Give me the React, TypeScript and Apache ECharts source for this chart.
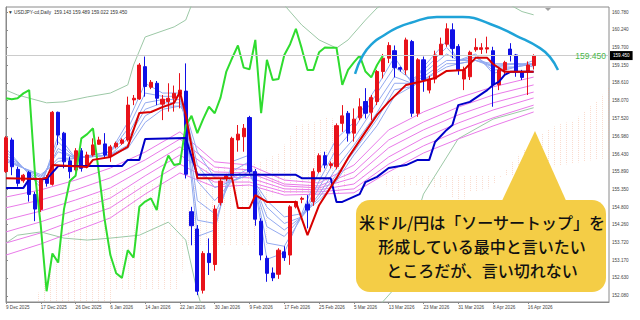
import React, { useEffect, useRef } from "react";
import * as echarts from "echarts";

// ---------- axis labels ----------
const dateLabels = [
  "9 Dec 2025", "17 Dec 2025", "26 Dec 2025", "6 Jan 2026", "14 Jan 2026", "22 Jan 2026",
  "30 Jan 2026", "9 Feb 2026", "17 Feb 2026", "25 Feb 2026", "5 Mar 2026", "13 Mar 2026",
  "23 Mar 2026", "31 Mar 2026", "8 Apr 2026", "16 Apr 2026",
];
const yTicks = [
  152.08, 152.63, 153.17, 153.72, 154.26, 154.8, 155.35, 155.89, 156.43, 156.98,
  157.52, 158.07, 158.61, 159.15, 159.7, 160.24, 160.78,
];
const headerText = "▼ USDJPY-cd,Daily  159.143 159.489 159.022 159.450";
const calloutLines = [
  "米ドル/円は「ソーサートップ」を",
  "形成している最中と言いたい",
  "ところだが、言い切れない",
];

// ---------- candles ----------
const opens = [
  155.89, 156.86, 155.96, 155.61, 155.86, 155.19, 154.73, 155.68, 155.5, 157.71,
  157.07, 156.22, 155.94, 156.53, 156.06, 156.4, 156.73, 156.74, 156.35, 156.65,
  156.76, 156.86, 158.09, 158.12, 159.11, 158.48, 158.6, 157.96, 158.04, 158.14,
  158.26, 158.36, 154.66, 154.13, 152.25, 153.38, 153.04, 154.94, 155.68, 155.76,
  156.86, 156.96, 157.55, 155.89, 154.37, 153.23, 152.78, 152.74, 153.43, 153.33,
  154.81, 155.04, 154.89, 154.97, 155.89, 156.38, 156.08, 156.04, 157.37, 157.68,
  157.07, 157.54, 158.04, 157.71, 158.04, 158.96, 159.37, 159.6, 159.08, 159.01,
  159.88, 157.68, 159.32, 158.39, 158.73, 159.47, 159.8, 160.24, 159.73, 158.73,
  158.8, 159.63, 159.64, 159.65, 159.6, 158.55, 159.01, 159.65, 159.47, 158.96,
  158.96, 159.143,
];
const closes = [
  156.93, 156.04, 155.53, 155.78, 155.19, 154.74, 155.63, 155.53, 157.71, 157.01,
  156.19, 155.89, 156.53, 155.99, 156.4, 156.71, 156.86, 156.4, 156.65, 156.76,
  156.86, 157.93, 158.14, 159.16, 158.5, 158.63, 158.14, 158.11, 158.14, 158.29,
  158.39, 155.81, 154.23, 152.22, 153.38, 153.1, 154.74, 155.6, 155.76, 156.91,
  157.04, 157.22, 155.89, 154.43, 153.33, 152.77, 152.63, 153.48, 153.25, 154.81,
  154.97, 155.07, 154.71, 155.89, 156.38, 156.09, 156.13, 157.3, 157.6, 157.07,
  157.5, 157.88, 157.68, 158.16, 158.96, 159.37, 159.76, 159.08, 159.03, 159.93,
  157.68, 159.32, 158.7, 158.73, 159.47, 159.8, 160.27, 159.67, 159.01, 159.01,
  159.55, 159.7, 159.69, 159.69, 158.55, 159.01, 159.24, 159.45, 158.96, 158.78,
  159.16, 159.45,
];
const lows = [
  155.85, 155.78, 155.43, 155.55, 154.97, 154.37, 154.65, 155.43, 155.46, 156.71,
  155.99, 155.68, 155.89, 155.89, 155.99, 156.35, 156.71, 156.3, 156.19, 156.6,
  156.71, 156.81, 157.93, 158.09, 158.19, 158.42, 157.93, 157.47, 157.73, 157.73,
  157.83, 155.68, 153.63, 152.1, 152.15, 152.72, 152.85, 154.85, 155.6, 155.68,
  156.5, 156.5, 155.83, 154.23, 153.17, 152.51, 152.53, 152.6, 153.15, 153.03,
  154.76, 154.92, 154.15, 154.84, 155.84, 155.99, 155.99, 155.96, 157.11, 156.81,
  156.81, 157.47, 157.52, 157.47, 157.93, 158.75, 159.22, 158.78, 158.96, 158.86,
  157.57, 157.57, 158.34, 158.29, 158.6, 159.45, 159.72, 159.37, 158.86, 158.39,
  158.7, 159.57, 159.5, 159.52, 157.88, 158.39, 158.86, 159.27, 158.8, 158.7,
  158.24, 159.022,
];
const highs = [
  156.98, 156.93, 156.04, 155.82, 155.91, 155.27, 155.69, 155.78, 157.75, 157.73,
  157.11, 156.35, 156.61, 156.61, 156.5, 156.91, 156.96, 157.07, 156.71, 156.81,
  156.91, 158.19, 158.24, 159.22, 159.42, 158.7, 158.67, 158.24, 158.6, 158.53,
  158.91, 159.21, 154.81, 154.25, 153.45, 153.84, 154.86, 155.69, 155.82, 156.96,
  157.32, 157.35, 157.6, 155.97, 154.46, 153.31, 152.95, 153.54, 153.6, 154.86,
  155.0, 155.12, 155.17, 155.99, 156.45, 156.5, 156.2, 157.37, 157.93, 157.75,
  157.83, 158.14, 158.45, 158.24, 159.01, 159.5, 159.86, 159.76, 159.11, 160.0,
  159.93, 159.37, 159.42, 158.83, 159.6, 160.0, 160.44, 160.44, 159.8, 159.11,
  159.6, 159.98, 159.83, 160.03, 159.72, 159.06, 159.29, 159.83, 159.5, 159.01,
  159.27, 159.489,
];

// ---------- Ichimoku (bar index, price) ----------
const tenkan = [
  [0, 155.69], [6, 155.66], [7, 155.7], [8, 156.09], [14, 156.03], [15, 156.25], [18, 156.34],
  [21, 156.65], [22, 157.17], [23, 157.69], [25, 157.72], [27, 157.87], [29, 158.0], [30, 158.33],
  [31, 157.63], [33, 155.69], [39, 155.69], [40, 154.77], [42, 154.77], [43, 155.17], [45, 154.96],
  [50, 154.96], [52, 153.94], [54, 154.86], [57, 155.69], [59, 156.31], [62, 157.11], [64, 157.63],
  [66, 158.03], [69, 158.55], [72, 158.67], [74, 158.76], [76, 158.98], [79, 159.01], [81, 159.38],
  [83, 159.38], [84, 159.19], [86, 158.95], [91, 158.95],
];
const kijun = [
  [0, 155.39], [3, 155.39], [4, 155.66], [7, 155.66], [9, 156.06], [20, 156.06], [21, 156.25],
  [23, 156.25], [24, 156.89], [31, 156.92], [33, 155.79], [50, 155.79], [51, 155.69], [56, 155.69],
  [57, 154.96], [58, 154.96], [61, 155.2], [62, 155.57], [64, 155.73], [66, 156.0], [69, 156.09],
  [71, 156.25], [73, 156.25], [74, 156.8], [76, 157.17], [77, 157.32], [78, 157.93], [80, 158.03],
  [83, 158.39], [84, 158.55], [85, 158.64], [86, 158.86], [87, 158.95], [91, 158.95],
];
const senkouA = [
  [0, 150.4], [4.7, 151.89], [7.6, 152.81], [12.8, 154.87], [16.2, 155.23], [18.5, 155.39],
  [23, 155.48], [26, 155.54], [32, 155.66], [34, 156.03], [40, 156.05], [44, 156.2], [47, 156.45],
  [49, 156.97], [50, 157.31], [53, 157.38], [56, 157.63], [57, 157.27], [59, 155.74], [65, 155.74],
  [66, 155.28], [68, 155.28], [69, 155.48], [76, 155.37], [78, 154.82], [80, 155.28], [83, 155.33],
  [85, 155.66], [88, 156.34], [90, 156.66], [92, 157.01], [95, 157.32], [98, 157.46], [100, 157.78],
  [102, 158.07], [104, 158.47],
];
const senkouB = [
  [0, 150.0], [18, 150.0], [18.6, 152.26], [30, 152.26], [31, 153.64], [45, 153.64], [46, 155.23],
  [58, 155.23], [59, 155.76], [90, 155.76], [92, 156.0], [95, 156.06], [102, 156.27], [104, 156.27],
];

// ---------- Bollinger bands ----------
const bbUpper = [
  [0, 158.39], [2, 158.24], [7, 158.0], [10, 158.03], [14, 158.18], [18, 158.3], [21, 158.55],
  [22, 159.16], [24, 160.02], [29, 160.33], [31, 160.54], [32, 161.0], [36, 162.0], [44, 162.0],
  [48, 161.0], [51, 160.39], [54, 159.93], [57, 159.68], [59, 159.93], [62, 160.54], [64, 160.91],
  [68, 161.4], [80, 161.6], [87, 161.0], [89, 160.8], [91, 160.7],
];
const bbLower = [
  [0, 153.7], [2, 153.94], [6, 154.04], [10, 153.85], [14, 153.79], [18, 153.85], [23, 153.94],
  [28, 154.34], [31, 153.79], [33, 152.19], [36, 150.5], [46, 150.0], [56, 150.6], [62, 151.3],
  [67, 152.3], [72, 155.2], [78, 156.9], [84, 157.5], [91, 157.85],
];

// ---------- GMMA short (bar index list + 6 lines) ----------
const shortIdx = [0, 6, 9, 12, 18, 21, 24, 27, 30, 31, 33, 36, 39, 42, 45, 48, 51, 54, 57, 60, 64, 67, 70, 72, 76, 78, 81, 84, 88, 91];
const ema3 = [156.6, 155.4, 157.0, 156.3, 156.5, 157.4, 158.6, 158.3, 158.3, 157.3, 153.9, 154.1, 156.2, 156.4, 153.2, 153.4, 154.6, 155.9, 156.9, 157.4, 158.5, 159.4, 158.6, 159.1, 159.9, 159.3, 159.5, 158.9, 159.1, 159.3];
const ema5 = [156.5, 155.5, 156.8, 156.3, 156.5, 157.2, 158.3, 158.2, 158.2, 157.4, 154.4, 154.3, 155.9, 156.2, 153.7, 153.6, 154.5, 155.6, 156.6, 157.2, 158.3, 159.1, 158.7, 159.0, 159.7, 159.3, 159.4, 159.0, 159.1, 159.2];
const ema8 = [156.4, 155.6, 156.6, 156.3, 156.5, 157.0, 158.0, 158.1, 158.1, 157.5, 155.0, 154.6, 155.7, 156.0, 154.2, 153.9, 154.5, 155.4, 156.3, 156.9, 158.0, 158.8, 158.6, 158.9, 159.5, 159.3, 159.4, 159.1, 159.1, 159.2];
const ema10 = [156.3, 155.7, 156.5, 156.3, 156.4, 156.9, 157.8, 158.0, 158.0, 157.6, 155.6, 155.0, 155.6, 155.9, 154.5, 154.1, 154.5, 155.2, 156.0, 156.7, 157.7, 158.6, 158.6, 158.8, 159.3, 159.3, 159.3, 159.1, 159.2, 159.2];
const ema12 = [156.25, 155.75, 156.3, 156.3, 156.4, 156.7, 157.6, 157.9, 157.9, 157.65, 156.1, 155.4, 155.6, 155.8, 154.8, 154.3, 154.5, 155.1, 155.8, 156.5, 157.5, 158.4, 158.5, 158.7, 159.2, 159.2, 159.3, 159.15, 159.2, 159.15];
const ema15 = [156.2, 155.8, 156.2, 156.3, 156.4, 156.6, 157.4, 157.8, 157.9, 157.7, 156.5, 155.7, 155.6, 155.8, 155.0, 154.5, 154.6, 155.0, 155.6, 156.4, 157.3, 158.2, 158.5, 158.7, 159.1, 159.2, 159.3, 159.2, 159.2, 159.1];

// ---------- GMMA long ----------
const longIdx = [0, 6, 12, 18, 24, 30, 36, 42, 48, 54, 60, 66, 72, 78, 84, 91];
const ema30 = [155.11, 155.33, 155.63, 156.0, 156.49, 157.11, 156.19, 156.09, 155.63, 155.54, 156.09, 157.17, 157.72, 158.15, 158.49, 158.79];
const ema35 = [154.78, 155.02, 155.33, 155.7, 156.25, 156.89, 156.03, 155.94, 155.51, 155.45, 155.88, 156.86, 157.41, 157.87, 158.24, 158.55];
const ema40 = [154.41, 154.68, 155.02, 155.39, 156.0, 156.65, 155.88, 155.85, 155.45, 155.39, 155.7, 156.62, 157.17, 157.63, 158.0, 158.33];
const ema45 = [154.04, 154.35, 154.71, 155.08, 155.76, 156.4, 155.73, 155.7, 155.36, 155.33, 155.51, 156.34, 156.92, 157.38, 157.78, 158.15];
const ema50 = [153.7, 154.01, 154.41, 154.78, 155.48, 156.12, 155.57, 155.57, 155.27, 155.27, 155.36, 156.12, 156.68, 157.14, 157.54, 157.93];
const ema60 = [153.33, 153.67, 154.07, 154.47, 155.2, 155.85, 155.42, 155.48, 155.17, 155.2, 155.24, 155.88, 156.46, 156.89, 157.29, 157.72];

// ---------- saucer arc annotation ----------
const saucerArc = [
  [60.2, 158.89], [61.6, 159.47], [63.3, 159.84], [65.0, 160.05], [67.4, 160.3], [69.7, 160.45],
  [74.3, 160.63], [78.8, 160.63], [83.5, 160.42], [88.1, 160.05], [92.1, 159.68], [93.8, 159.41],
  [95.2, 159.01],
];

const CHIKOU_SHIFT = 26;
const TOTAL_SLOTS = 105;

function hatchPattern() {
  const c = document.createElement("canvas");
  c.width = 6;
  c.height = 2;
  const ctx = c.getContext("2d");
  if (ctx) {
    ctx.fillStyle = "rgba(242,172,140,0.42)";
    ctx.fillRect(2, 0, 1, 1);
  }
  return { image: c.toDataURL(), repeat: "repeat", imageWidth: 6, imageHeight: 2 };
}

export default function App() {
  const ref = useRef<HTMLDivElement>(null);
  useEffect(() => {
    if (!ref.current) return;
    const chart = echarts.init(ref.current, null, { renderer: "svg", width: 640, height: 320 });
    const cats = Array.from({ length: TOTAL_SLOTS }, (_, i) => String(i));
    const tickInterval = (index: number) => index % 6 === 0 && index / 6 < dateLabels.length;
    const candleData = opens.map((o, i) => [o, closes[i], lows[i], highs[i]]);
    const lastClose = closes[closes.length - 1];
    const pattern = hatchPattern();

    const thin = (idx: number[], vals: number[], color: string) => ({
      type: "line",
      xAxisIndex: 1,
      yAxisIndex: 0,
      data: idx.map((x, k) => [x, vals[k]]),
      symbol: "none",
      silent: true,
      lineStyle: { color, width: 1 },
      z: 2,
    });
    const pairLine = (data: number[][], color: string, width: number, z: number, smooth: any = false) => ({
      type: "line",
      xAxisIndex: 1,
      yAxisIndex: 0,
      data,
      symbol: "none",
      silent: true,
      smooth,
      lineStyle: { color, width },
      z,
    });

    const shortColor = "#93aaf0";
    const longColor = "#e97ae9";
    const bbColor = "#9cc8a6";

    const option: any = {
      animation: false,
      backgroundColor: "#ffffff",
      grid: {
        left: 6, right: 31, top: 7, bottom: 18,
        show: true, borderColor: "#8a8a8a", borderWidth: 1,
        containLabel: false, outerBoundsMode: "none",
      },
      xAxis: [
        {
          type: "category",
          data: cats,
          boundaryGap: false,
          axisLine: { show: true, lineStyle: { color: "#8a8a8a" } },
          axisTick: { show: true, interval: tickInterval, length: 2, lineStyle: { color: "#8a8a8a" } },
          axisLabel: {
            interval: tickInterval,
            formatter: (_v: string, i: number) => dateLabels[i / 6] ?? "",
            align: "left",
            fontSize: 4.6,
            color: "#444",
            margin: 3,
            fontFamily: "Liberation Sans",
          },
          splitLine: { show: false },
        },
        { type: "value", min: 0, max: TOTAL_SLOTS - 1, show: false },
      ],
      yAxis: {
        type: "value",
        position: "right",
        min: 151.89,
        max: 160.94,
        splitLine: { show: false },
        axisLine: { show: true, lineStyle: { color: "#8a8a8a" } },
        axisTick: { show: true, customValues: yTicks, length: 2, lineStyle: { color: "#8a8a8a" } },
        axisLabel: {
          customValues: yTicks,
          formatter: (v: number) => v.toFixed(3),
          fontSize: 4.6,
          color: "#444",
          margin: 3,
          fontFamily: "Liberation Sans",
        },
      },
      series: [
        {
          type: "custom",
          xAxisIndex: 1,
          yAxisIndex: 0,
          silent: true,
          z: 1,
          data: [[0, senkouA[0][1]]],
          renderItem: (params: any, api: any) => {
            const top = senkouA.map((p) => api.coord(p));
            const bot = senkouB.map((p) => api.coord(p)).reverse();
            const cs = params.coordSys;
            return {
              type: "polygon",
              shape: { points: top.concat(bot) },
              style: { fill: pattern },
              clipPath: { type: "rect", shape: { x: cs.x, y: cs.y, width: cs.width, height: cs.height } },
            };
          },
        },
        {
          ...pairLine(bbUpper, bbColor, 1, 2),
          markLine: {
            silent: true,
            symbol: ["none", "none"],
            data: [{ yAxis: lastClose }],
            lineStyle: { color: "#cccccc", width: 1, type: "solid" },
            label: {
              show: true,
              position: "end",
              formatter: lastClose.toFixed(3),
              backgroundColor: "#000",
              color: "#fff",
              fontSize: 4.6,
              padding: [2, 3, 2, 3],
              distance: 1,
              fontFamily: "Liberation Sans",
            },
          },
        },
        pairLine(bbLower, bbColor, 1, 2),
        thin(longIdx, ema30, longColor),
        thin(longIdx, ema35, longColor),
        thin(longIdx, ema40, longColor),
        thin(longIdx, ema45, longColor),
        thin(longIdx, ema50, longColor),
        thin(longIdx, ema60, longColor),
        thin(shortIdx, ema3, shortColor),
        thin(shortIdx, ema5, shortColor),
        thin(shortIdx, ema8, shortColor),
        thin(shortIdx, ema10, shortColor),
        thin(shortIdx, ema12, shortColor),
        thin(shortIdx, ema15, shortColor),
        {
          type: "candlestick",
          xAxisIndex: 0,
          yAxisIndex: 0,
          data: candleData,
          barWidth: 3.6,
          silent: true,
          z: 3,
          itemStyle: {
            color: "#e8121a",
            color0: "#1010e6",
            borderColor: "#e8121a",
            borderColor0: "#1010e6",
            borderWidth: 1,
          },
        },
        {
          type: "line",
          xAxisIndex: 0,
          yAxisIndex: 0,
          data: closes.slice(CHIKOU_SHIFT),
          symbol: "none",
          silent: true,
          lineStyle: { color: "#2fdc2f", width: 2 },
          z: 4,
        },
        pairLine(kijun, "#0000c8", 2, 4),
        pairLine(tenkan, "#d80000", 2, 4),
        pairLine(saucerArc, "#1fa3d8", 2.5, 5, 0.5),
      ],
      graphic: [
        {
          type: "text",
          z: 50,
          style: {
            text: headerText, x: 8, y: 12, fontSize: 4.8, fill: "#333",
            fontFamily: "Liberation Sans", verticalAlign: "middle", textVerticalAlign: "middle",
          },
        },
        {
          type: "polygon",
          z: 50,
          shape: { points: [[545, 8], [551, 8], [548, 11]] },
          style: { fill: "#a0a0a0" },
        },
        {
          type: "text",
          z: 50,
          style: {
            text: lastClose.toFixed(3), x: 606, y: 56, fontSize: 8.5, fill: "#4cb84c",
            fontFamily: "Liberation Sans", align: "right", textAlign: "right",
            verticalAlign: "middle", textVerticalAlign: "middle",
          },
        },
        {
          type: "polygon",
          z: 60,
          shape: { points: [[500, 205], [568, 205], [535, 131]] },
          style: { fill: "#f4cd46" },
        },
        {
          type: "rect",
          z: 60,
          shape: { x: 356, y: 200, width: 250, height: 92, r: 14 },
          style: { fill: "#f4cd46" },
        },
        ...calloutLines.map((t, k) => ({
          type: "text",
          z: 61,
          style: {
            text: t, x: 482, y: 222 + k * 24, fontSize: 16, fontWeight: 500, fill: "#111",
            fontFamily: "Noto Sans CJK JP", align: "center", textAlign: "center",
            verticalAlign: "middle", textVerticalAlign: "middle",
          },
        })),
      ],
    };
    chart.setOption(option);
    return () => chart.dispose();
  }, []);
  return <div ref={ref} style={{ position: "fixed", left: 0, top: 0, width: 640, height: 320 }} />;
}
